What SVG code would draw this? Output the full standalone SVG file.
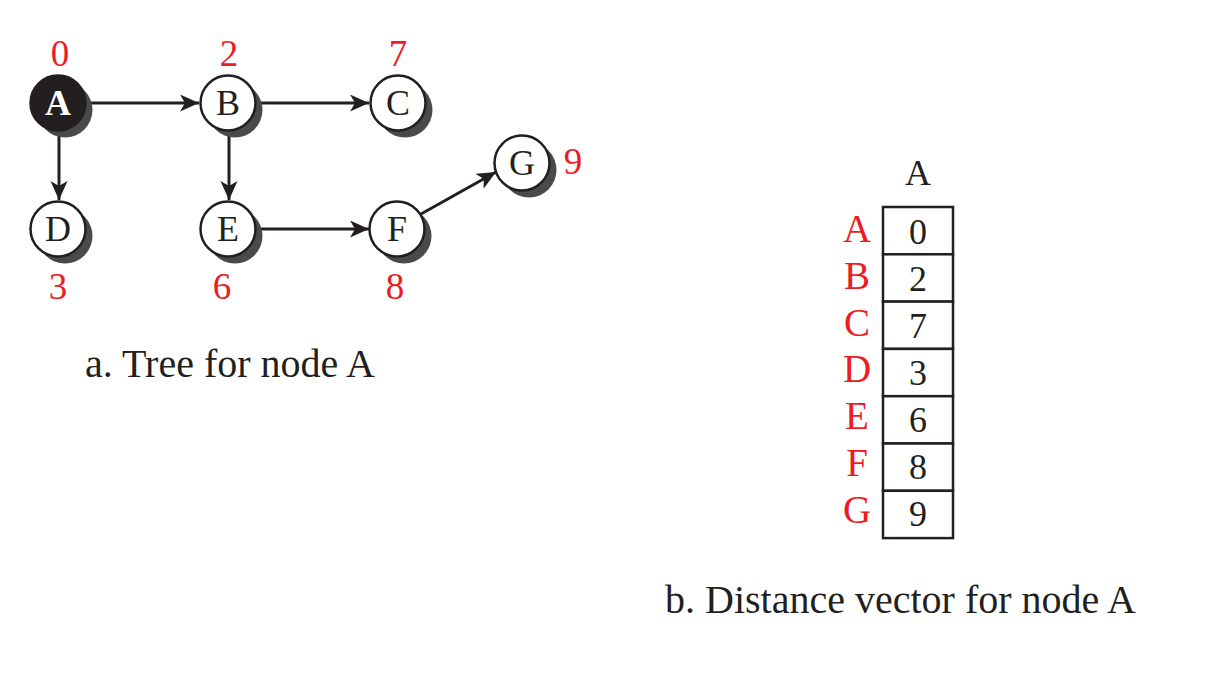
<svg xmlns="http://www.w3.org/2000/svg" width="1226" height="676" viewBox="0 0 1226 676">
<style>
.sh{fill:#4a4a4a}
.nd{fill:#fff;stroke:#231f20;stroke-width:2.5}
.ndk{fill:#231f20;stroke:#231f20;stroke-width:2.5}
.lt{font-family:"Liberation Serif",serif;font-size:36px;fill:#231f20;text-anchor:middle}
.lw{font-family:"Liberation Serif",serif;font-size:36px;fill:#fff;text-anchor:middle;font-weight:bold}
.rd{font-family:"Liberation Serif",serif;font-size:37px;fill:#ed1c24;text-anchor:middle}
.rl{font-family:"Liberation Serif",serif;font-size:39px;fill:#ed1c24;text-anchor:middle}
.cap{font-family:"Liberation Serif",serif;font-size:40px;fill:#231f20}
.cell{fill:#fff;stroke:#231f20;stroke-width:2.5}
.ed{stroke:#231f20;stroke-width:3;fill:none;marker-end:url(#ah)}
</style>
<defs>
<marker id="ah" markerUnits="userSpaceOnUse" markerWidth="20" markerHeight="18" refX="19" refY="8.5" orient="auto">
<path d="M0,0 L19,8.5 L0,17 L5,8.5 z" fill="#231f20"/>
</marker>
</defs>
<rect width="1226" height="676" fill="#fff"/>
<g id="connectors">
<line class="ed" x1="86" y1="103" x2="199" y2="103"/>
<line class="ed" x1="256" y1="103" x2="369" y2="103"/>
<line class="ed" x1="59" y1="131" x2="59" y2="200"/>
<line class="ed" x1="229" y1="131" x2="229" y2="200"/>
<line class="ed" x1="257" y1="229" x2="369" y2="229"/>
<line class="ed" x1="421" y1="214" x2="496" y2="172"/>
</g>
<g id="node-A">
<circle class="sh" cx="65" cy="110" r="27.5"/>
<circle class="ndk" cx="58" cy="103" r="27.5"/>
<text class="lw" x="58" y="115">A</text>
<text class="rd" x="60" y="66">0</text>
</g>
<g id="node-B">
<circle class="sh" cx="235" cy="110" r="27.5"/>
<circle class="nd" cx="228" cy="103" r="27.5"/>
<text class="lt" x="228" y="115">B</text>
<text class="rd" x="229" y="66">2</text>
</g>
<g id="node-C">
<circle class="sh" cx="405" cy="110" r="27.5"/>
<circle class="nd" cx="398" cy="103" r="27.5"/>
<text class="lt" x="398" y="115">C</text>
<text class="rd" x="398" y="66">7</text>
</g>
<g id="node-D">
<circle class="sh" cx="65" cy="236" r="27.5"/>
<circle class="nd" cx="58" cy="229" r="27.5"/>
<text class="lt" x="58" y="241">D</text>
<text class="rd" x="58" y="299">3</text>
</g>
<g id="node-E">
<circle class="sh" cx="235" cy="236" r="27.5"/>
<circle class="nd" cx="228" cy="229" r="27.5"/>
<text class="lt" x="228" y="241">E</text>
<text class="rd" x="222" y="299">6</text>
</g>
<g id="node-F">
<circle class="sh" cx="404" cy="236" r="27.5"/>
<circle class="nd" cx="397" cy="229" r="27.5"/>
<text class="lt" x="397" y="241">F</text>
<text class="rd" x="395" y="299">8</text>
</g>
<g id="node-G">
<circle class="sh" cx="529" cy="170" r="27.5"/>
<circle class="nd" cx="522" cy="163" r="27.5"/>
<text class="lt" x="522" y="175">G</text>
<text class="rd" x="573" y="174">9</text>
</g>
<text class="cap" x="85" y="377">a. Tree for node A</text>
<g id="table">
<text class="lt" x="918" y="185">A</text>
<rect class="cell" x="883" y="207" width="70" height="47.3"/>
<rect class="cell" x="883" y="254.3" width="70" height="47.3"/>
<rect class="cell" x="883" y="301.6" width="70" height="47.3"/>
<rect class="cell" x="883" y="348.9" width="70" height="47.3"/>
<rect class="cell" x="883" y="396.2" width="70" height="47.3"/>
<rect class="cell" x="883" y="443.5" width="70" height="47.3"/>
<rect class="cell" x="883" y="490.8" width="70" height="47.3"/>
<text class="lt" x="918" y="244">0</text>
<text class="lt" x="918" y="291">2</text>
<text class="lt" x="918" y="338">7</text>
<text class="lt" x="918" y="385">3</text>
<text class="lt" x="918" y="432">6</text>
<text class="lt" x="918" y="479">8</text>
<text class="lt" x="918" y="526">9</text>
<text class="rl" x="857" y="242">A</text>
<text class="rl" x="857" y="289">B</text>
<text class="rl" x="857" y="336">C</text>
<text class="rl" x="857" y="382">D</text>
<text class="rl" x="857" y="429">E</text>
<text class="rl" x="857" y="476">F</text>
<text class="rl" x="857" y="523">G</text>
</g>
<text class="cap" x="665" y="613">b. Distance vector for node A</text>
</svg>
